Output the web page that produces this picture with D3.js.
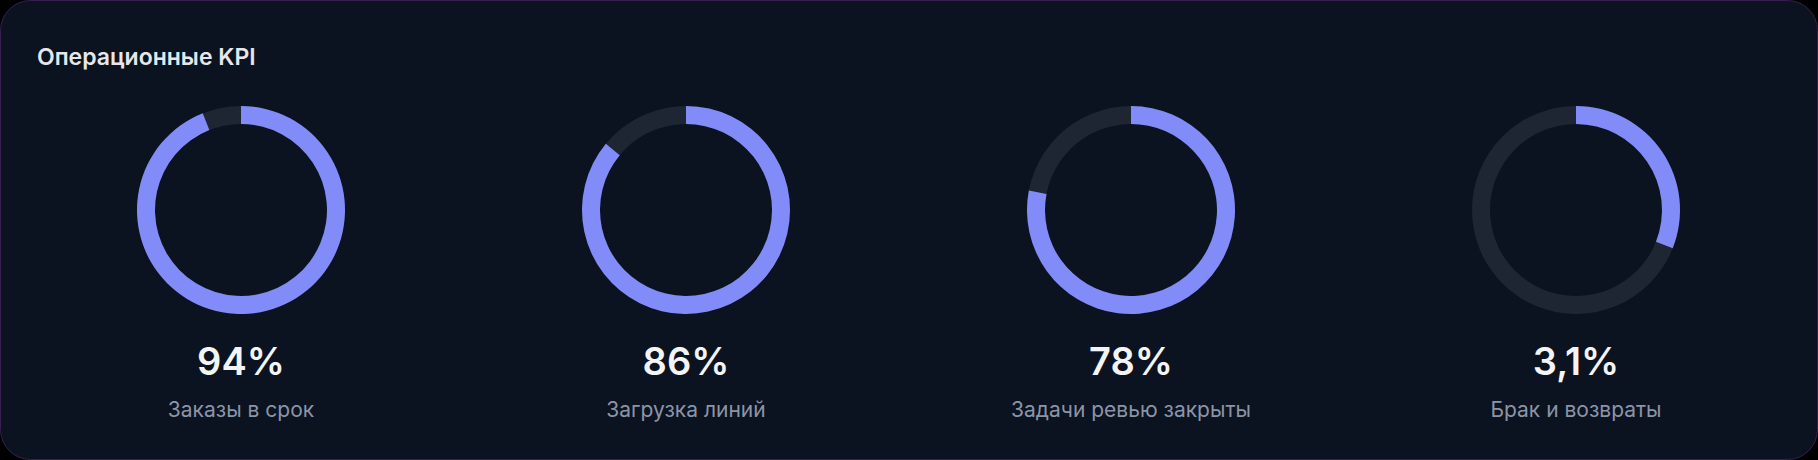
<!DOCTYPE html><html><head><meta charset="utf-8"><script src="https://cdn.jsdelivr.net/npm/d3@7"></script>
<style>html,body{margin:0;background:#000;}</style></head><body><svg id="c" width="1818" height="460"></svg>
<script>
const labels=["Заказы в срок","Загрузка линий","Задачи ревью закрыты","Брак и возвраты"];
const values=[94,86,78,3.1];
const maxima=[100,100,100,10];
const display=["94%","86%","78%","3,1%"];
const svg=d3.select("#c");
svg.append("rect").attr("x",0.5).attr("y",0.5).attr("width",1817).attr("height",459).attr("rx",30)
 .attr("fill","#0b1220").attr("stroke","#3b1d4f");
svg.append("text").attr("x",37).attr("y",65).text("Операционные KPI")
 .attr("fill","#e5e7eb").attr("font-family","Inter, sans-serif").attr("font-size",23).attr("font-weight",600);
const x=d3.scalePoint().domain(labels).range([241,1576]);
const arc=d3.arc().innerRadius(86).outerRadius(104);
labels.forEach((l,i)=>{
 const g=svg.append("g").attr("transform",`translate(${x(l)},210)`);
 const s=d3.scaleLinear().domain([0,maxima[i]]).range([0,2*Math.PI]);
 g.append("path").attr("d",arc({startAngle:0,endAngle:2*Math.PI})).attr("fill","#1e2634");
 g.append("path").attr("d",arc({startAngle:0,endAngle:s(values[i])})).attr("fill","#818cf8");
 g.append("text").attr("y",165).attr("text-anchor","middle").text(display[i]).attr("fill","#f3f4f6")
  .attr("font-family","Inter, sans-serif").attr("font-size",38).attr("font-weight",600);
 g.append("text").attr("y",207).attr("text-anchor","middle").text(l).attr("fill","#8b95a7")
  .attr("font-family","Inter, sans-serif").attr("font-size",21);
});
</script></body></html>
